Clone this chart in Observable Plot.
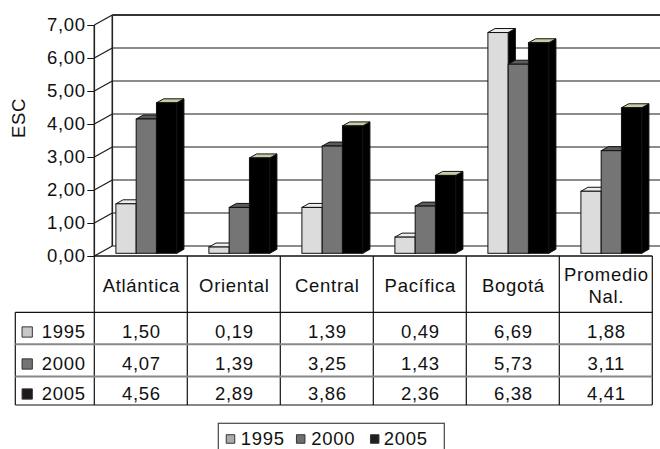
<!DOCTYPE html>
<html>
<head>
<meta charset="utf-8">
<script src="https://cdn.jsdelivr.net/npm/d3@7"></script>
<script src="https://cdn.jsdelivr.net/npm/@observablehq/plot@0.6"></script>
<style>
  body { margin: 0; background: #fff; }
  #chart svg { display: block; }
  #chart svg text { letter-spacing: 0.7px; font-size: 18.5px; font-family: 'Liberation Sans', Arial, sans-serif; }
</style>
</head>
<body>
<div id="chart"></div>
<script>
// ---- data ----
const categories = ["Atlántica", "Oriental", "Central", "Pacífica", "Bogotá", "Promedio\nNal."];
const years = ["1995", "2000", "2005"];
const values1995 = [1.50, 0.19, 1.39, 0.49, 6.69, 1.88];
const values2000 = [4.07, 1.39, 3.25, 1.43, 5.73, 3.11];
const values2005 = [4.56, 2.89, 3.86, 2.36, 6.38, 4.41];
const yTicks = [0, 1, 2, 3, 4, 5, 6, 7];
const yTickLabels = ["0,00", "1,00", "2,00", "3,00", "4,00", "5,00", "6,00", "7,00"];
const yLabel = "ESC";

const series = [values1995, values2000, values2005];
const rows = years.flatMap((year, s) => categories.map((cat, i) => ({year, s, cat, i, value: series[s][i]})));
const fmt = (v) => v.toFixed(2).replace(".", ",");

// ---- style ----
const FRONT = ["#dcdcdc", "#757575", "#000000"];
const TOP = ["#ededed", "#5c5c5c", "#cbcba5"];
const SIDE = ["#000000", "#000000", "#000000"];
const SWATCH = ["#c8c8c8", "#747474", "#1e1a1a"];
const LEGEND_SWATCH = ["#ababab", "#6e6e6e", "#221e1e"];
const DX = 18, DY = -10;          // wall depth (px)
const BF = 0.27, BB = 0.67;       // bar front/back depth fraction
const BAR0 = 0.18, BARW = 0.218;  // bar layout within a category
const HEAD_DY = 28.5;
const ROW_DY = [75.5, 107.5, 137.5];
const ROW_LINES = [56.3, 88.3, 120.5, 149];
const TABLE_LEFT = -79;

function line(g, x1, y1, x2, y2, stroke = "#111", w = 1) {
  g.append("line").attr("x1", x1).attr("y1", y1).attr("x2", x2).attr("y2", y2)
    .attr("stroke", stroke).attr("stroke-width", w);
}

function walls(index, scales, values, dimensions) {
  const {x, y} = scales;
  const g = d3.create("svg:g");
  const bx = x(0) + DX;
  const W = dimensions.width;
  for (const v of yTicks) {
    const yb = y(v) + DY;
    line(g, bx, yb, W, yb, v === 7 ? "#333" : "#1a1a1a", v === 7 ? 2 : 1.2);
    line(g, x(0), y(v), bx, yb, "#1a1a1a", 1.2);
  }
  line(g, bx, y(0) + DY, bx, y(7) + DY, "#222", 1.6);
  line(g, x(0), y(0), x(0), y(7), "#222", 1.6);
  return g.node();
}

const barFaces = (s) => (index, scales) => {
  const {x, y} = scales;
  const g = d3.create("svg:g").attr("stroke", "#111").attr("stroke-width", 1).attr("stroke-linejoin", "round");
  const fx = DX * BF, fy = DY * BF, ox = DX * (BB - BF), oy = DY * (BB - BF);
  rows.filter(d => d.s === s).forEach(d => {
    const xl = x(d.i + BAR0 + s * BARW) + fx, xr = x(d.i + BAR0 + (s + 1) * BARW) + fx;
    const yt = y(d.value) + fy, yb = y(0) + fy;
    g.append("path").attr("fill", SIDE[s])
      .attr("d", `M${xr},${yt}L${xr + ox},${yt + oy}L${xr + ox},${yb + oy}L${xr},${yb}Z`);
    g.append("path").attr("fill", TOP[s])
      .attr("d", `M${xl},${yt}L${xr},${yt}L${xr + ox},${yt + oy}L${xl + ox},${yt + oy}Z`);
  });
  return g.node();
};

function tableLines(index, scales) {
  const {x, y} = scales;
  const g = d3.create("svg:g");
  const y0 = y(0);
  const xl = x(0) + TABLE_LEFT, xr = x(categories.length);
  line(g, x(0), y0, xr, y0, "#111", 1.3);
  categories.forEach((c, i) => line(g, x(i), y0, x(i), y0 + ROW_LINES[3], "#111", 1.2));
  line(g, xr, y0, xr, y0 + ROW_LINES[3], "#111", 1.2);
  line(g, xl, y0 + ROW_LINES[0], xl, y0 + ROW_LINES[3], "#111", 1.2);
  line(g, xl, y0 + ROW_LINES[0], xr, y0 + ROW_LINES[0], "#111", 1.2);
  line(g, xl, y0 + ROW_LINES[1], xr, y0 + ROW_LINES[1], "#888", 2);
  line(g, xl, y0 + ROW_LINES[2], xr, y0 + ROW_LINES[2], "#888", 2);
  line(g, xl, y0 + ROW_LINES[3], xr, y0 + ROW_LINES[3], "#111", 1.2);
  return g.node();
}

function legendBox(index, scales) {
  const {x, y} = scales;
  const g = d3.create("svg:g");
  g.append("rect").attr("x", x(0) + 124).attr("y", y(0) + 167.3)
    .attr("width", 226).attr("height", 40)
    .attr("fill", "white").attr("stroke", "#444").attr("stroke-width", 1.2);
  return g.node();
}

const LEG_SW_DX = [135.7, 205.9, 279.9];
const LEG_TX_DX = [146, 216.5, 289];
const LEG_DY = 182.5;

const marks = [walls];
years.forEach((yr, s) => {
  marks.push(barFaces(s));
  marks.push(Plot.rect(rows.filter(d => d.s === s), {
    x1: d => d.i + BAR0 + d.s * BARW,
    x2: d => d.i + BAR0 + (d.s + 1) * BARW,
    y1: 0, y2: "value",
    dx: DX * BF, dy: DY * BF,
    fill: FRONT[s], stroke: "#111", strokeWidth: 1
  }));
});
marks.push(tableLines);
marks.push(Plot.text(categories, {x: (d, i) => i + 0.5, y: 0, dy: HEAD_DY, text: d => d, lineHeight: 1.18, fill: "#111"}));
years.forEach((yr, s) => {
  marks.push(Plot.text(rows.filter(d => d.s === s), {x: d => d.i + 0.5, y: 0, dy: ROW_DY[s], text: d => fmt(d.value), fill: "#111"}));
  marks.push(Plot.dot([yr], {x: 0, y: 0, dx: -67.6, dy: ROW_DY[s], symbol: "square", r: 5.8, fill: SWATCH[s], stroke: "#333", strokeWidth: 1}));
  marks.push(Plot.text([yr], {x: 0, y: 0, dx: -53, dy: ROW_DY[s], text: d => d, textAnchor: "start", fill: "#111"}));
});
marks.push(legendBox);
years.forEach((yr, s) => {
  marks.push(Plot.dot([yr], {x: 0, y: 0, dx: LEG_SW_DX[s], dy: LEG_DY, symbol: "square", r: 4.8, fill: LEGEND_SWATCH[s], stroke: "#333", strokeWidth: 1}));
  marks.push(Plot.text([yr], {x: 0, y: 0, dx: LEG_TX_DX[s], dy: LEG_DY, text: d => d, textAnchor: "start", fill: "#111"}));
});
marks.push(Plot.text([yLabel], {frameAnchor: "left", rotate: -90, dx: -76, dy: -3, text: d => d, fill: "#111"}));

const chart = Plot.plot({
  width: 660,
  height: 449,
  marginLeft: 94.3,
  marginRight: 7.7,
  marginTop: 25,
  marginBottom: 193,
  x: {type: "linear", domain: [0, categories.length], axis: null},
  y: {domain: [0, 7], ticks: yTicks, tickFormat: d => yTickLabels[yTicks.indexOf(d)], tickSize: 7, tickPadding: 2, label: null},
  style: {fontFamily: "'Liberation Sans', Arial, sans-serif", fontSize: "18.5px", background: "white", color: "#111", overflow: "visible"},
  marks
});
document.getElementById("chart").appendChild(chart);
</script>
</body>
</html>
